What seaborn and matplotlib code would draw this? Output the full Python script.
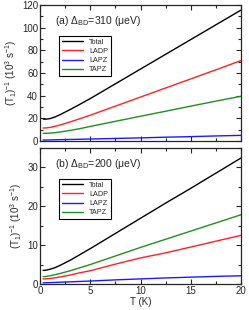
import matplotlib
matplotlib.use("Agg")
import matplotlib.pyplot as plt
import pandas as pd
import seaborn as sns
from matplotlib.ticker import MultipleLocator

# temperaturas (K)
T = [0.3, 0.5, 1, 1.5, 2, 3, 4, 5, 7.5, 10, 12.5, 15, 17.5, 20]

# (a) Delta_BD = 310 ueV
a_total = [19.5, 19.2, 19.8, 21.3, 23.3, 27.8, 32.6, 37.5, 50.5, 63.5, 76.5, 89.5, 102.5, 115.5]
a_ladp = [11.5, 11.5, 12.0, 13.0, 14.2, 16.9, 19.8, 22.8, 30.8, 38.8, 46.8, 54.8, 62.8, 71.0]
a_lapz = [0.9, 0.9, 1.0, 1.1, 1.2, 1.4, 1.6, 1.8, 2.3, 2.8, 3.4, 3.9, 4.5, 5.0]
a_tapz = [6.8, 6.8, 7.0, 7.4, 8.0, 9.4, 11.0, 12.9, 17.4, 21.9, 26.3, 30.8, 35.2, 39.5]

# (b) Delta_BD = 200 ueV
b_total = [3.5, 3.5, 3.8, 4.2, 4.8, 6.1, 7.6, 9.1, 13.0, 16.9, 20.8, 24.6, 28.5, 32.4]
b_ladp = [1.3, 1.3, 1.4, 1.6, 1.8, 2.3, 2.9, 3.4, 5.1, 6.7, 8.0, 9.5, 11.0, 12.5]
b_lapz = [0.3, 0.3, 0.35, 0.4, 0.45, 0.55, 0.65, 0.75, 1.05, 1.3, 1.55, 1.75, 1.95, 2.1]
b_tapz = [1.9, 1.9, 2.1, 2.4, 2.7, 3.4, 4.2, 5.0, 7.2, 9.4, 11.5, 13.6, 15.7, 17.8]

series = ["Total", "LADP", "LAPZ", "TAPZ"]
cores = {"Total": "black", "LADP": "#ff2020", "LAPZ": "#1a1aff", "TAPZ": "#1f8f1f"}

sns.set_style("ticks")
plt.rcParams["font.family"] = ["Liberation Sans", "DejaVu Sans"]
plt.rcParams["mathtext.fontset"] = "custom"
plt.rcParams["mathtext.rm"] = "Liberation Sans"
plt.rcParams["mathtext.it"] = "Liberation Sans"
plt.rcParams["mathtext.default"] = "regular"
plt.rcParams["xtick.direction"] = "in"
plt.rcParams["ytick.direction"] = "in"


def to_long(vals):
    frames = []
    for nome, v in zip(series, vals):
        frames.append(pd.DataFrame({"T": T, "rate": v, "curve": nome}))
    return pd.concat(frames, ignore_index=True)


fig = plt.figure(figsize=(2.49, 3.10), dpi=100)
ax1 = fig.add_axes([0.161, 0.545, 0.807, 0.439])
ax2 = fig.add_axes([0.161, 0.084, 0.807, 0.439])

paineis = [
    (ax1, to_long([a_total, a_ladp, a_lapz, a_tapz]), "(a) Δ$_{BD}$=310 (μeV)", (0, 120), 20, 10),
    (ax2, to_long([b_total, b_ladp, b_lapz, b_tapz]), "(b) Δ$_{BD}$=200 (μeV)", (0, 35), 10, 5),
]

for ax, df, titulo, ylim, major, minor in paineis:
    sns.lineplot(data=df, x="T", y="rate", hue="curve", hue_order=series,
                 palette=cores, linewidth=1.0, ax=ax)
    ax.set_xlim(0, 20)
    ax.set_ylim(*ylim)
    ax.xaxis.set_major_locator(MultipleLocator(5))
    ax.xaxis.set_minor_locator(MultipleLocator(2.5))
    ax.yaxis.set_major_locator(MultipleLocator(major))
    ax.yaxis.set_minor_locator(MultipleLocator(minor))
    ax.tick_params(which="both", top=True, right=True, labelsize=7, width=0.8, pad=1.5)
    ax.tick_params(which="major", length=3.5)
    ax.tick_params(which="minor", length=2)
    for s in ax.spines.values():
        s.set_linewidth(0.9)
    ax.set_ylabel("(T$_1$)$^{-1}$ (10$^3$ s$^{-1}$)", fontsize=7, labelpad=2)
    ax.text(0.075, 0.86, titulo, transform=ax.transAxes, fontsize=7.5)
    leg = ax.legend(loc="upper left", bbox_to_anchor=(0.075, 0.8), fontsize=5.2,
                    handlelength=3.0, labelspacing=0.3, borderpad=0.4,
                    fancybox=False, framealpha=1, edgecolor="black", title=None)
    leg.get_frame().set_linewidth(0.8)
    for ln in leg.get_lines():
        ln.set_linewidth(1.0)

ax1.set_xlabel("")
ax1.set_xticklabels([])
ax2.set_xlabel("T (K)", fontsize=7, labelpad=1)

fig.savefig("out.png", dpi=100)
